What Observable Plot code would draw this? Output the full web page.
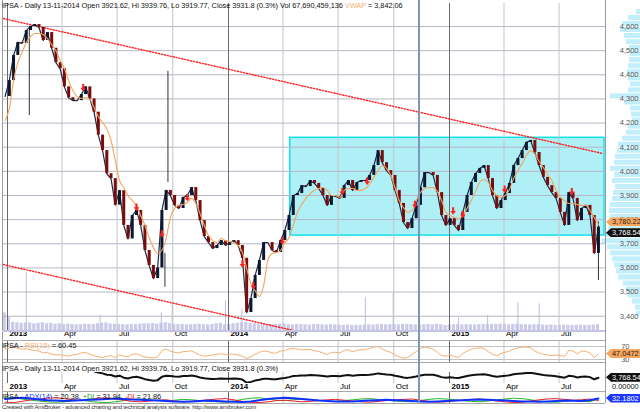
<!DOCTYPE html>
<html><head><meta charset="utf-8">
<script src="https://cdn.jsdelivr.net/npm/d3@7"></script>
<script src="https://cdn.jsdelivr.net/npm/@observablehq/plot@0.6"></script>
<style>
body{margin:0;background:#fff;}
#wrap{position:relative;width:640px;height:412px;overflow:hidden;font-family:"Liberation Sans",Arial,sans-serif;background:#fff;}
#wrap svg{position:absolute;left:0;overflow:visible;}
.t{position:absolute;white-space:nowrap;font-size:7.4px;letter-spacing:-0.05px;line-height:9px;color:#111;}
.tag{position:absolute;left:606px;width:29px;height:9px;line-height:9px;font-size:7.4px;padding-left:6px;text-align:left;white-space:nowrap;overflow:hidden;
 clip-path:polygon(0 50%,5px 0,100% 0,100% 100%,5px 100%);}
.ln{position:absolute;background:#9a9a9a;}
</style></head><body><div id="wrap"></div>
<script>
// ---------------- data ----------------
const weeks = ["2012-12-28",
"2013-01-04","2013-01-11","2013-01-18","2013-01-25","2013-02-01","2013-02-08","2013-02-15","2013-02-22","2013-03-01","2013-03-08",
"2013-03-15","2013-03-22","2013-03-29","2013-04-05","2013-04-12","2013-04-19","2013-04-26","2013-05-03","2013-05-10","2013-05-17",
"2013-05-24","2013-05-31","2013-06-07","2013-06-14","2013-06-21","2013-06-28","2013-07-05","2013-07-12","2013-07-19","2013-07-26",
"2013-08-02","2013-08-09","2013-08-16","2013-08-23","2013-08-30","2013-09-06","2013-09-13","2013-09-20","2013-09-27","2013-10-04",
"2013-10-11","2013-10-18","2013-10-25","2013-11-01","2013-11-08","2013-11-15","2013-11-22","2013-11-29","2013-12-06","2013-12-13",
"2013-12-20","2013-12-27",
"2014-01-03","2014-01-10","2014-01-17","2014-01-24","2014-01-31","2014-02-07","2014-02-14","2014-02-21","2014-02-28","2014-03-07",
"2014-03-14","2014-03-21","2014-03-28","2014-04-04","2014-04-11","2014-04-18","2014-04-25","2014-05-02","2014-05-09","2014-05-16",
"2014-05-23","2014-05-30","2014-06-06","2014-06-13","2014-06-20","2014-06-27","2014-07-04","2014-07-11","2014-07-18","2014-07-25",
"2014-08-01","2014-08-08","2014-08-15","2014-08-22","2014-08-29","2014-09-05","2014-09-12","2014-09-19","2014-09-26","2014-10-03",
"2014-10-10","2014-10-17","2014-10-24","2014-10-31","2014-11-07","2014-11-14","2014-11-21","2014-11-28","2014-12-05","2014-12-12",
"2014-12-19","2014-12-26",
"2015-01-02","2015-01-09","2015-01-16","2015-01-23","2015-01-30","2015-02-06","2015-02-13","2015-02-20","2015-02-27","2015-03-06",
"2015-03-13","2015-03-20","2015-03-27","2015-04-03","2015-04-10","2015-04-17","2015-04-24","2015-05-01","2015-05-08","2015-05-15",
"2015-05-22","2015-05-29","2015-06-05","2015-06-12","2015-06-19","2015-06-26","2015-07-03","2015-07-10","2015-07-17","2015-07-24",
"2015-07-31","2015-08-07","2015-08-14","2015-08-21","2015-08-28","2015-09-04"];

const close = [4310,4376,4480,4534,4530,4583,4600,4608,4596,4542,
4575,4510,4450,4425,4350,4305,4293,4293,4318,4350,
4300,4245,4150,4086,3990,3970,3860,3920,3776,3720,
3817,3838,3776,3672,3610,3556,3600,3838,3921,3900,
3859,3846,3892,3900,3933,3879,3796,3730,3705,3680,
3693,3713,3693,3705,3713,3693,3640,3415,3473,3569,
3631,3705,3705,3672,3664,3713,3755,3817,3900,3908,
3941,3937,3962,3950,3929,3900,3859,3900,3896,3888,
3941,3962,3921,3954,3962,3962,3983,4024,4086,4036,
4003,3983,3921,3867,3788,3763,3804,3859,3932,3995,
3995,3983,3912,3817,3776,3804,3776,3755,3830,3900,
3954,3991,4012,4024,3970,3900,3846,3879,3908,3950,
4024,4053,4086,4120,4128,4078,4024,3975,3941,3912,
3888,3830,3776,3912,3888,3796,3846,3859,3817,3660,3768.54];

const movingAvg = [4211,4260,4376,4450,4492,4534,4559,4571,4571,4567,
4550,4525,4501,4459,4426,4376,4335,4310,4302,4306,
4298,4264,4227,4202,4177,4128,4045,3962,3933,3900,
3879,3859,3817,3776,3726,3684,3660,3672,3722,3809,
3846,3859,3863,3871,3888,3867,3825,3776,3734,3713,
3705,3722,3713,3709,3705,3693,3664,3598,3535,3506,
3482,3527,3631,3660,3664,3672,3701,3726,3776,3830,
3863,3888,3908,3921,3929,3933,3921,3900,3900,3892,
3921,3929,3929,3921,3921,3929,3946,3975,4003,4024,
4012,3983,3933,3879,3850,3830,3838,3879,3912,3929,
3933,3933,3916,3879,3830,3817,3809,3805,3817,3846,
3879,3916,3954,3966,3954,3921,3900,3892,3900,3925,
3970,4003,4032,4066,4086,4070,4041,4016,3987,3962,
3921,3892,3879,3867,3867,3863,3859,3859,3838,3809,3780.22];

const volume = [200,150,95,90,85,90,88,80,85,90,
80,85,75,80,70,75,72,68,70,75,
72,70,80,85,90,78,75,72,70,68,
70,72,75,80,78,82,75,85,90,80,
75,70,72,68,70,72,75,70,68,72,
80,85,70,72,80,85,90,95,85,80,
75,72,70,68,72,75,78,70,68,72,
70,68,65,70,72,68,65,70,66,64,
62,65,60,64,62,66,68,65,70,72,
68,70,72,68,75,72,70,68,66,70,
72,68,75,70,60,65,70,72,68,70,
68,66,70,72,68,70,72,75,70,68,
72,75,70,68,66,70,68,65,64,66,
62,60,64,62,60,62,64,60,62,65,70];

const rsi = [62,66,68,65,62,63,60,58,56,
50,52,46,44,45,
42,40,44,46,50,52,46,42,
38,36,40,42,36,44,
40,38,46,48,42,38,36,35,38,
58,62,56,52,
50,54,55,57,50,44,40,42,
44,46,48,45,47,46,44,40,
33,38,46,52,
56,55,50,50,56,58,
62,64,62,60,60,61,57,55,
50,45,52,52,50,58,60,54,
58,60,60,64,68,70,
62,56,52,44,38,34,36,
46,54,64,68,66,62,
52,42,40,44,40,36,
48,56,62,64,66,64,
54,46,42,48,52,
56,62,66,68,68,66,
56,50,46,44,42,44,
42,40,58,56,48,56,
55,50,36,47];

// fortnightly (every second week)
const adx = [30,34,36,32,28,24,22,20,22,24,26,28,30,32,30,28,26,24,22,20,18,16,18,20,22,20,18,16,15,17,24,30,34,36,34,30,26,22,20,18,17,18,20,22,24,26,24,22,20,18,16,18,20,22,24,26,27,26,24,22,20,18,17,16,18,20,22,21,20,24,32];
const plusDI = [35,38,30,24,20,16,14,16,20,24,18,14,12,16,22,28,30,26,22,20,24,28,26,22,18,16,14,20,28,34,36,30,24,22,26,30,28,24,20,18,22,26,30,32,28,24,20,18,16,22,28,32,30,26,22,18,16,20,26,30,34,32,26,20,16,14,18,22,20,16,32];
const minusDI = [14,12,18,26,30,34,36,32,26,22,28,34,36,30,24,18,16,20,24,26,20,16,18,22,26,30,32,26,18,14,12,16,22,24,20,16,18,22,26,28,24,20,16,14,18,22,26,28,30,24,18,14,16,20,24,28,30,26,20,16,12,14,20,26,30,32,28,24,26,30,22];

const signalDates = ["2013-05-06","2013-08-02","2013-09-13","2013-10-25","2014-01-24","2014-02-11","2014-03-31","2014-07-08","2014-08-18","2014-11-05","2015-01-07","2015-01-23","2015-04-02","2015-07-22"];
const signalPrices = [4345,3850,3740,3890,3615,3525,3710,3915,3958,3862,3835,3820,3925,3915];

const wickDates = ["2013-02-06","2013-09-18","2013-09-23","2015-09-04"];
const wickLow = [4231,3520,3954,3548];
const wickHigh = [4583,3660,4414,3790];

const volSpikeDates = ["2013-02-01","2013-06-03","2013-09-12","2013-09-30","2013-12-27","2014-01-23","2014-08-15","2014-09-30","2015-01-16","2015-03-05","2015-04-24","2015-05-29"];
const volSpikes = [640,170,200,310,330,240,365,420,145,170,310,300];

const upperTrendDates = ["2012-12-25","2015-09-11"];
const upperTrendPrices = [4633,4074];
const lowerTrendDates = ["2012-12-25","2014-04-18"];
const lowerTrendPrices = [3614,3341];

const boxDates = ["2014-04-13","2015-09-14"];
const boxPrices = [3734,4139];

const profilePrices = d3.range(3400, 4651, 25);
const profileVol = [4,5,8,12,14,17,22,24,26,28,30,33,38,34,32,31,30,31,30,28,27,25,28,26,30,26,25,23,22,18,14,12,8,9,10,16,30,12,10,12,13,12,11,10,11,14,16,20,18,12,4];

const quarterTicks = ["2013-01-01","2013-04-01","2013-07-01","2013-10-01","2014-01-01","2014-04-01","2014-07-01","2014-10-01","2015-01-01","2015-04-01","2015-07-01"];
const priceTicks = [3400,3500,3600,3700,3800,3900,4000,4100,4200,4300,4400,4500,4600];
const rsiTicks = [30,70];
const selectedDate = "2014-11-13";
const lastClose = 3768.54, lastMA = 3780.22, lastRSI = 47.0472, lastADX = 32.1802, zeroVal = 0;

// ---------------- tables ----------------
const D = s => new Date(s);
const price = weeks.map((w, i) => ({date: D(w), close: close[i], ma: movingAvg[i], vol: volume[i], rsi: rsi[i]}));
// weekly candles: open = previous week's close
const candles = price.slice(1).map((d, i) => ({date: d.date, o: price[i].close, c: d.close}));
const dmi = adx.map((v, i) => ({date: D(weeks[i * 2]), adx: v, pdi: plusDI[i], mdi: minusDI[i]}));
const signals = signalDates.map((d, i) => ({date: D(d), p: signalPrices[i]}));
const wicks = wickDates.map((d, i) => ({date: D(d), lo: wickLow[i], hi: wickHigh[i]}));
const spikes = volSpikeDates.map((d, i) => ({date: D(d), v: volSpikes[i]}));
const upper = upperTrendDates.map((d, i) => ({date: D(d), p: upperTrendPrices[i]}));
const lower = lowerTrendDates.map((d, i) => ({date: D(d), p: lowerTrendPrices[i]}));
const profile = profilePrices.map((p, i) => ({p, v: profileVol[i]}));
const qTicks = quarterTicks.map(D);
const yTicks = qTicks.filter(d => d.getUTCMonth() === 0);
const mTicks = qTicks.filter(d => d.getUTCMonth() !== 0);

const FONT = '"Liberation Sans", Arial, sans-serif';
const X = {type: "utc", domain: [D("2013-01-01"), D("2015-01-01")], range: [7, 449], axis: null};
const YP = {domain: [3400, 4600], range: [315.7, 26], axis: null};
const style = {background: "transparent", fontFamily: FONT, fontSize: "8px", overflow: "visible"};
const wrap = document.getElementById("wrap");
function place(svg, top) { svg.style.top = top + "px"; wrap.appendChild(svg); return svg; }

const arrowDown = {draw(ctx, size) {
  const s = Math.sqrt(size) / 2;
  ctx.moveTo(-s * 0.4, -s * 1.5); ctx.lineTo(s * 0.4, -s * 1.5); ctx.lineTo(s * 0.4, -s * 0.1);
  ctx.lineTo(s * 1.05, -s * 0.1); ctx.lineTo(0, s * 1.3); ctx.lineTo(-s * 1.05, -s * 0.1);
  ctx.lineTo(-s * 0.4, -s * 0.1); ctx.closePath();
}};

const grid = () => [
  Plot.ruleX(mTicks, {stroke: "#c4c4c4", strokeWidth: 1}),
  Plot.ruleX(yTicks, {stroke: "#6a6a6a", strokeWidth: 1})
];
const xLabels = () => [
  Plot.text(yTicks, {x: d => d, text: d3.utcFormat("%Y"), frameAnchor: "bottom", dy: 5, dx: 2, textAnchor: "start", fontWeight: "bold", fill: "#000", fontSize: 8}),
  Plot.text(mTicks, {x: d => d, text: d3.utcFormat("%b"), frameAnchor: "bottom", dy: 5, dx: 2, textAnchor: "start", fill: "#000", fontSize: 8})
];

// ---------------- price-profile (right margin) ----------------
place(Plot.plot({
  width: 640, height: 341, marginTop: 0, marginRight: 0, marginBottom: 10.5, marginLeft: 0, style,
  x: {domain: [0, 40], range: [640, 600], axis: null}, y: YP,
  marks: [Plot.rectX(profile, {y: "p", x: "v", interval: 25, fill: "#c2effb", clip: true})]
}), 0);

// ---------------- volume ----------------
place(Plot.plot({
  width: 640, height: 341, marginTop: 3, marginRight: 35, marginBottom: 10.5, marginLeft: 2, style,
  x: X, y: {domain: [0, 1100], range: [330.5, 230.5], axis: null},
  marks: [
    Plot.rectY(price, {x: "date", y: "vol", interval: d3.utcWeek, fill: "#cbcbe9", clip: true}),
    Plot.ruleX(spikes, {x: "date", y1: 0, y2: "v", stroke: "#bcbce0", strokeWidth: 1})
  ]
}), 0);

// ---------------- main price chart ----------------
const main = place(Plot.plot({
  width: 640, height: 341, marginTop: 3, marginRight: 35, marginBottom: 10.5, marginLeft: 2, style,
  x: X, y: YP,
  marks: [
    Plot.rect([0], {x1: () => D(boxDates[0]), x2: () => D(boxDates[1]), y1: () => boxPrices[0], y2: () => boxPrices[1], fill: "#aff0f6", stroke: "#12e2ee", strokeWidth: 1.5, clip: true}),
    Plot.ruleY(priceTicks, {stroke: "#b6b6c6", strokeWidth: 1}),
    ...grid(),
    Plot.line(upper, {x: "date", y: "p", stroke: "#ff2020", strokeWidth: 1.4, strokeDasharray: "1.2,1.8", clip: true}),
    Plot.line(lower, {x: "date", y: "p", stroke: "#ff2020", strokeWidth: 1.4, strokeDasharray: "1.2,1.8", clip: true}),
    Plot.ruleX(wicks, {x: "date", y1: "lo", y2: "hi", stroke: "#333", strokeWidth: 1}),
    Plot.line(price, {x: "date", y: "close", stroke: "#1b2a44", strokeWidth: 1.2}),
    Plot.ruleX(candles, {x: "date", y1: "o", y2: "c", stroke: d => d.c >= d.o ? "#0c1830" : "#7a0c0c", strokeWidth: 3}),
    Plot.line(price, {x: "date", y: "ma", stroke: "#f4a55a", strokeWidth: 1.1, curve: "monotone-x"}),
    Plot.dot(signals, {x: "date", y: "p", symbol: arrowDown, r: 3, fill: "#ff2020", stroke: null}),
    Plot.text(priceTicks, {y: d => d, text: d3.format(","), frameAnchor: "right", dx: 33, textAnchor: "end", fill: "#555", fontSize: 7.5}),
    ...xLabels()
  ]
}), 0);
const xs = main.scale("x"), ys = main.scale("y");

// ---------------- RSI panel ----------------
const rsiPlot = place(Plot.plot({
  width: 640, height: 22, marginTop: 0, marginRight: 35, marginBottom: 0, marginLeft: 2, style,
  x: X, y: {domain: [30, 70], range: [18, 5], axis: null},
  marks: [
    Plot.ruleY(rsiTicks, {stroke: "#c4c4c4"}),
    ...grid(),
    Plot.line(price, {x: "date", y: "rsi", stroke: "#f5b070", strokeWidth: 1}),
    Plot.text(rsiTicks, {y: d => d, text: d => String(d), frameAnchor: "right", dx: 24, textAnchor: "end", fill: "#555", fontSize: 7.5})
  ]
}), 341);
const yr = rsiPlot.scale("y");

// ---------------- mini price panel + 2nd date axis ----------------
const miniPlot = place(Plot.plot({
  width: 640, height: 28, marginTop: 9, marginRight: 35, marginBottom: 8, marginLeft: 2, style,
  x: X, y: {domain: [3395, 4150], range: [19.5, 9], axis: null},
  marks: [
    ...grid(),
    Plot.line(price, {x: "date", y: "close", stroke: "#111", strokeWidth: 2, clip: true}),
    ...xLabels()
  ]
}), 363);
const ym = miniPlot.scale("y");

// ---------------- ADX panel ----------------
const adxPlot = place(Plot.plot({
  width: 640, height: 12, marginTop: 0, marginRight: 35, marginBottom: 0, marginLeft: 2, style,
  x: X, y: {domain: [0, 40], range: [13.5, 5.5], axis: null},
  marks: [
    ...grid(),
    Plot.line(dmi, {x: "date", y: "pdi", stroke: "#22bb22", strokeWidth: 1}),
    Plot.line(dmi, {x: "date", y: "mdi", stroke: "#ee2222", strokeWidth: 1}),
    Plot.line(dmi, {x: "date", y: "adx", stroke: "#1030ff", strokeWidth: 2})
  ]
}), 391);
const ya = adxPlot.scale("y");

// ---------------- borders / separators ----------------
function div(cls, css, html) { const e = document.createElement("div"); e.className = cls; Object.assign(e.style, css); if (html != null) e.innerHTML = html; wrap.appendChild(e); return e; }
div("ln", {left: "605px", top: "0px", width: "1px", height: "403px"});
div("ln", {left: "2px", top: "0px", width: "1px", height: "403px"});
div("ln", {left: "2px", top: "330px", width: "603px", height: "2px", background: "#c4c4e2"});
[340, 362, 391, 403].forEach(t => div("ln", {left: "2px", top: t + "px", width: "603px", height: "1px", background: "#a8a8a8"}));
// selected bar
div("ln", {left: (xs.apply(D(selectedDate)) - 1) + "px", top: "0px", width: "2px", height: "403px", background: "#7b97ba"});

// ---------------- texts ----------------
div("t", {left: "2px", top: "1px"}, 'IPSA - Daily 13-11-2014 Open 3921.62, Hi 3939.76, Lo 3919.77, Close 3931.8 (0.3%) Vol 67,690,459,136 <span style="color:#f5b070">VWAP</span> = 3,842.06');
div("t", {left: "2px", top: "341px"}, 'IPSA - <span style="color:#f5b070">RSI(15)</span> = 60.45');
div("t", {left: "2px", top: "364px"}, 'IPSA - Daily 13-11-2014 Open 3921.62, Hi 3939.76, Lo 3919.77, Close 3931.8 (0.3%)');
div("t", {left: "2px", top: "392px"}, 'IPSA - <span style="color:#1030ff">ADX(14)</span> = 20.38, <span style="color:#22aa22">+DI</span> = 31.94, <span style="color:#ee2222">-DI</span> = 21.86');
div("t", {left: "2px", top: "403px", fontSize: "6px", letterSpacing: "-0.2px", color: "#333"}, 'Created with AmiBroker - advanced charting and technical analysis software. http://www.amibroker.com');

// ---------------- value tags (stacked like the reference so they do not overlap) ----------------
const f2 = d3.format(",.2f");
function tag(y, text, bg, fg) { div("tag", {top: (y - 4.5) + "px", background: bg, color: fg}, text); }
tag(ys.apply(lastMA) - 2, f2(lastMA), "#f6a65c", "#222");
tag(ys.apply(lastClose) + 6, f2(lastClose), "#111", "#fff");
tag(341 + yr.apply(lastRSI), d3.format(".4f")(lastRSI), "#f6a65c", "#222");
tag(363 + ym.apply(lastClose), f2(lastClose), "#111", "#fff");
tag(386.5, d3.format(".5f")(zeroVal), "#fff", "#111");
tag(391 + ya.apply(lastADX), d3.format(".4f")(lastADX), "#1a36ff", "#fff");
</script></body></html>
